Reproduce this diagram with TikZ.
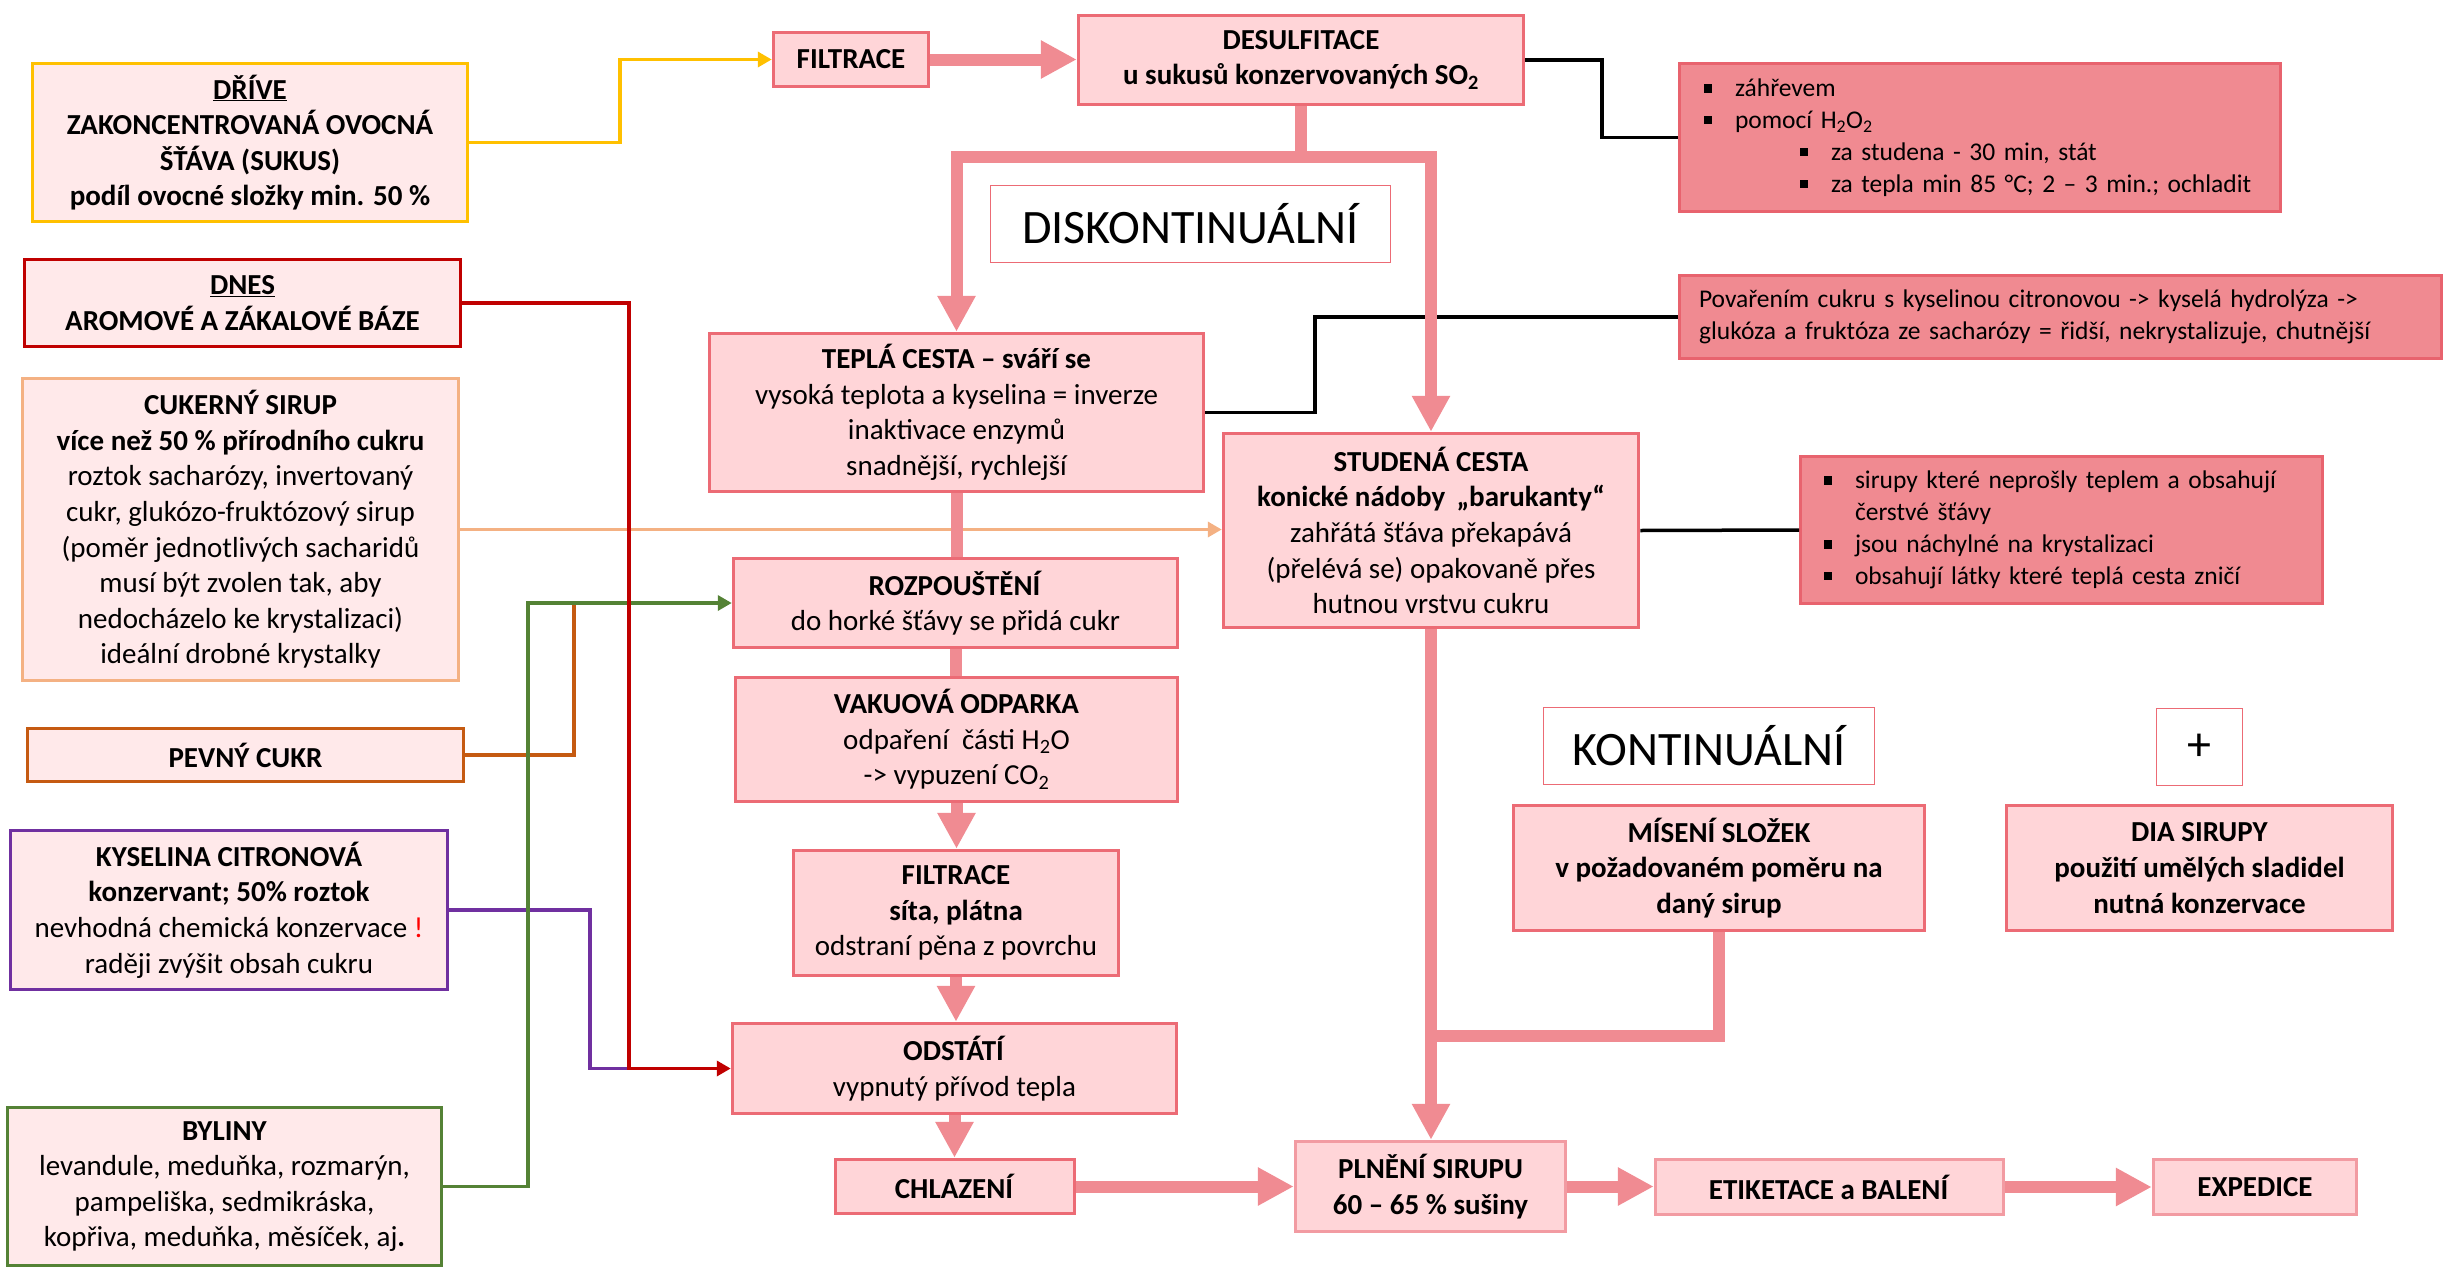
\documentclass[tikz,border=0pt]{standalone}
\usepackage{fontspec}
\setmainfont{Carlito}
\usetikzlibrary{arrows.meta}

\definecolor{boxfill}{HTML}{FFD5D8}
\definecolor{boxline}{HTML}{EC6B75}
\definecolor{lightline}{HTML}{F29BA2}
\definecolor{srcfill}{HTML}{FFE9EA}
\definecolor{notefill}{HTML}{F08A91}
\definecolor{noteline}{HTML}{E8636E}
\definecolor{flowc}{HTML}{F08B92}
\definecolor{ylw}{HTML}{FFC000}
\definecolor{redc}{HTML}{C00000}
\definecolor{peach}{HTML}{F4B183}
\definecolor{orng}{HTML}{C55A11}
\definecolor{purp}{HTML}{7030A0}
\definecolor{grn}{HTML}{548235}

\newcommand\mainsz{\fontsize{29}{35.6}\selectfont}
\newcommand\notesz{\fontsize{25.5}{31.8}\selectfont}
\newcommand\bigsz{\fontsize{48}{54}\selectfont}
\newcommand\notebullet{\makebox[31pt][l]{\rule[4pt]{7.5pt}{8.5pt}}}
% one unbreakable line of a note
\newcommand\noteline[2][0pt]{\mbox{\hspace*{#1}#2}}

\tikzset{
  pbox/.style={draw=boxline, fill=boxfill, line width=3.5pt, align=center,
    inner sep=0pt, font=\mainsz},
  sbox/.style={fill=srcfill, line width=3.5pt, align=center, inner sep=0pt,
    font=\mainsz},
  nbox/.style={draw=noteline, fill=notefill, line width=3pt, align=left,
    inner ysep=0pt, font=\notesz},
  lbl/.style={draw=boxline, fill=white, line width=1.5pt, inner sep=0pt,
    font=\bigsz},
  flow/.style={draw=flowc, line width=12pt},
  flowarr/.style={flow, -{Triangle[length=36pt,width=36pt]}},
  link/.style={line width=3.5pt},
  linkarr/.style={link, -{Triangle[length=14pt,width=15pt]}},
}

\begin{document}
\begin{tikzpicture}[x=1pt,y=-1pt]
\useasboundingbox (0,0) rectangle (2445,1269);

% ---- ingredient boxes on the left
\node[sbox, draw=ylw, minimum width=435pt, minimum height=158pt] (drive) at (250,142.5)
  {\textbf{\underline{DŘÍVE}}\\ \textbf{ZAKONCENTROVANÁ OVOCNÁ}\\ \textbf{ŠŤÁVA (SUKUS)}\\ \textbf{podíl ovocné složky min. 50 \%}};
\node[sbox, draw=redc, minimum width=436pt, minimum height=87pt] (dnes) at (242.5,303)
  {\textbf{\underline{DNES}}\\ \textbf{AROMOVÉ A ZÁKALOVÉ BÁZE}};
\node[sbox, draw=peach, minimum width=436pt, minimum height=302pt] (cuk) at (240.5,529.5)
  {\textbf{CUKERNÝ SIRUP}\\ \textbf{více než 50 \% přírodního cukru}\\ roztok sacharózy, invertovaný\\ cukr, glukózo-fruktózový sirup\\ (poměr jednotlivých sacharidů\\ musí být zvolen tak, aby\\ nedocházelo ke krystalizaci)\\ ideální drobné krystalky};
\node[sbox, draw=orng, minimum width=436pt, minimum height=53pt] (pevny) at (245.5,755)
  {\textbf{PEVNÝ CUKR}};
\node[sbox, draw=purp, minimum width=437pt, minimum height=159pt] (kys) at (229,910)
  {\textbf{KYSELINA CITRONOVÁ}\\ \textbf{konzervant; 50\% roztok}\\ nevhodná chemická konzervace {\color{red}!}\\ raději zvýšit obsah cukru};
\node[sbox, draw=grn, minimum width=434pt, minimum height=158pt] (byl) at (224.5,1186.5)
  {\textbf{BYLINY}\\ levandule, meduňka, rozmarýn,\\ pampeliška, sedmikráska,\\ kopřiva, meduňka, měsíček, aj\textbf{.}};

% ---- process boxes
\node[pbox, minimum width=155pt, minimum height=54pt] (filtr1) at (851,59.5) {\textbf{FILTRACE}};
\node[pbox, minimum width=445pt, minimum height=89pt] (desulf) at (1301,60)
  {\textbf{DESULFITACE}\\ \textbf{u sukusů konzervovaných SO\textsubscript{2}}};
\node[lbl, minimum width=400pt, minimum height=77pt] (diskont) at (1190.5,224) {DISKONTINUÁLNÍ};
\node[pbox, minimum width=494pt, minimum height=158pt] (tepla) at (956.5,412.5)
  {\textbf{TEPLÁ CESTA – sváří se}\\ vysoká teplota a kyselina = inverze\\ inaktivace enzymů\\ snadnější, rychlejší};
\node[pbox, minimum width=415pt, minimum height=194pt] (studena) at (1431,530.5)
  {\textbf{STUDENÁ CESTA}\\ \textbf{konické nádoby \,„barukanty“}\\ zahřátá šťáva překapává\\ (přelévá se) opakovaně přes\\ hutnou vrstvu cukru};
\node[pbox, minimum width=444pt, minimum height=89pt] (rozp) at (955.5,603)
  {\textbf{ROZPOUŠTĚNÍ}\\ do horké šťávy se přidá cukr};
\node[pbox, minimum width=442pt, minimum height=124pt] (vakuo) at (956.5,739.5)
  {\textbf{VAKUOVÁ ODPARKA}\\ odpaření\ \ části H\textsubscript{2}O\\ -> vypuzení CO\textsubscript{2}};
\node[pbox, minimum width=325pt, minimum height=125pt] (filtr2) at (956,913)
  {\textbf{FILTRACE}\\ \textbf{síta, plátna}\\ odstraní pěna z povrchu};
\node[pbox, minimum width=444pt, minimum height=90pt] (odst) at (954.5,1068.5)
  {\textbf{ODSTÁTÍ}\\ vypnutý přívod tepla};
\node[pbox, minimum width=239pt, minimum height=54pt] (chlaz) at (955,1186.5) {\textbf{CHLAZENÍ}};
\node[pbox, draw=lightline, minimum width=270pt, minimum height=90pt] (plneni) at (1430.5,1186.5)
  {\textbf{PLNĚNÍ SIRUPU}\\ \textbf{60 – 65 \% sušiny}};
\node[pbox, draw=lightline, minimum width=348pt, minimum height=55pt] (etik) at (1829.5,1187)
  {\textbf{ETIKETACE a BALENÍ}};
\node[pbox, draw=lightline, minimum width=203pt, minimum height=55pt] (exped) at (2255,1187)
  {\textbf{EXPEDICE}};
\node[lbl, minimum width=331pt, minimum height=77pt] (kontin) at (1709,746) {KONTINUÁLNÍ};
\node[lbl, minimum width=86pt, minimum height=77pt] (plus) at (2199.5,747) {+};
\node[pbox, minimum width=411pt, minimum height=125pt] (misen) at (1719,868)
  {\textbf{MÍSENÍ SLOŽEK}\\ \textbf{v požadovaném poměru na}\\ \textbf{daný sirup}};
\node[pbox, minimum width=386pt, minimum height=125pt] (dia) at (2199.5,868)
  {\textbf{DIA SIRUPY}\\ \textbf{použití umělých sladidel}\\ \textbf{nutná konzervace}};

% ---- notes on the right
\node[nbox, inner xsep=24.5pt, text width=552pt, minimum width=601pt, minimum height=148pt] (note1) at (1980,137.5)
  {\noteline{\notebullet záhřevem}\\
   \noteline{\notebullet pomocí H\textsubscript{2}O\textsubscript{2}}\\
   \noteline[96pt]{\notebullet za studena - 30 min, stát}\\
   \noteline[96pt]{\notebullet za tepla min 85 °C; 2 – 3 min.; ochladit}};
\node[nbox, inner xsep=19.5pt, text width=723pt, minimum width=762pt, minimum height=83pt] (note2) at (2060.5,317)
  {\noteline{Povařením cukru s kyselinou citronovou -> kyselá hydrolýza ->}\\
   \noteline{glukóza a fruktóza ze sacharózy = řidší, nekrystalizuje, chutnější}};
\node[nbox, inner xsep=23.5pt, text width=475pt, minimum width=522pt, minimum height=147pt] (note3) at (2061.5,530)
  {\noteline{\notebullet sirupy které neprošly teplem a obsahují}\\
   \noteline[31pt]{čerstvé šťávy}\\
   \noteline{\notebullet jsou náchylné na krystalizaci}\\
   \noteline{\notebullet obsahují látky které teplá cesta zničí}};

% ---- bend points of the thin connectors
\coordinate (yx) at (620,0);
\coordinate (rx) at (629,0);
\coordinate (px) at (590,0);
\coordinate (gx) at (528,0);
\coordinate (ox) at (574,0);
\coordinate (bx1) at (1602,0);
\coordinate (bx2) at (1315,0);

% ---- ingredient connectors
\draw[linkarr, peach] (cuk.east) -- (cuk.east -| studena.west);
\draw[link, purp] (kys.east) -- (kys.east -| px) |- (odst.west -| rx);
\draw[link, orng] (pevny.east) -- (pevny.east -| ox) -- (ox |- rozp.west);
\draw[linkarr, grn] (byl.east) -- (byl.east -| gx) |- (rozp.west);
\draw[linkarr, redc] (dnes.east) -- (dnes.east -| rx) |- (odst.west);
\draw[linkarr, ylw] (drive.east) -- (drive.east -| yx) |- (filtr1.west);

% ---- note connectors
\draw[link, black] (desulf.east) -- (desulf.east -| bx1) |- (note1.west);
\draw[link, black] (tepla.east) -- (tepla.east -| bx2) |- (note2.west);
\draw[link, black] (studena.east) -- (note3.west);

% ---- main flow
\coordinate (split) at (1301,157);
\draw[flowarr] (filtr1.east) -- (filtr1.east -| desulf.west);
\draw[flow] (desulf.south) -- (1301,163);
\draw[flowarr] (split) -| (tepla.north);
\draw[flowarr] (split) -| (studena.north);
\draw[flow] (tepla.south) -- (tepla.south |- rozp.north);
\draw[flow] (rozp.south) -- (rozp.south |- vakuo.north);
\draw[flowarr] (vakuo.south) -- (vakuo.south |- filtr2.north);
\draw[flowarr] (filtr2.south) -- (filtr2.south |- odst.north);
\draw[flowarr] (odst.south) -- (odst.south |- chlaz.north);
\draw[flowarr] (studena.south) -- (studena.south |- plneni.north);
\draw[flow] (misen.south) |- (1431,1036);
\draw[flowarr] (chlaz.east) -- (chlaz.east -| plneni.west);
\draw[flowarr] (plneni.east) -- (plneni.east -| etik.west);
\draw[flowarr] (etik.east) -- (exped.west);
\end{tikzpicture}
\end{document}
